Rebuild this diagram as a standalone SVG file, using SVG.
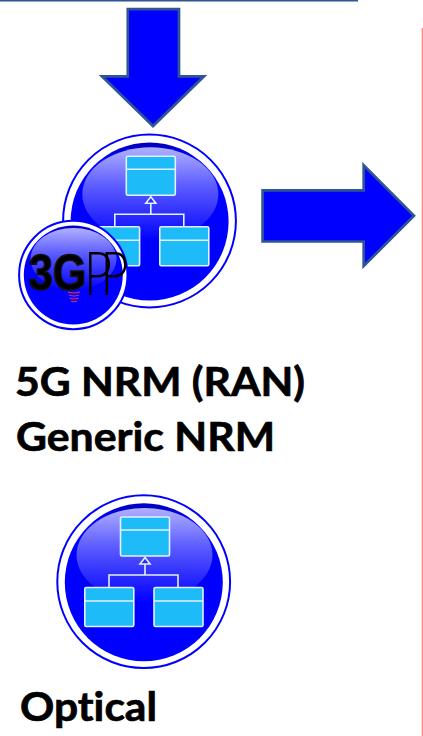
<svg xmlns="http://www.w3.org/2000/svg" width="423" height="736" viewBox="0 0 423 736">
<style>
.arrow{fill:#0000ff;stroke:#2f5597;stroke-width:2.7;stroke-miterlimit:10}
.ring{fill:#fff;stroke:#0000ff;stroke-width:2}
.box{fill:#1dbbf8;stroke:#e2f2ff;stroke-width:1.6}
.wire{fill:none;stroke:#e2f2ff;stroke-width:1.6}
.label{font-family:Lato,"Open Sans",sans-serif;font-weight:700;fill:#000;stroke:#000;stroke-width:.7;font-variant-ligatures:none}
.logo{font-family:"Liberation Sans",Arial,sans-serif;font-weight:700;fill:#000;stroke:#111;stroke-width:1.6}
.thin{font-family:Lato,"Open Sans",sans-serif;font-weight:300;fill:#000}
</style>
<defs>
<linearGradient id="disc" x1="0" y1="0" x2="0" y2="1"><stop offset="0" stop-color="#0000b8"/><stop offset=".1" stop-color="#0000ff"/></linearGradient>
<linearGradient id="gloss" x1="0" y1="0" x2="0" y2="1"><stop offset="0" stop-color="#b0b0ff"/><stop offset=".4" stop-color="#5e5eff"/><stop offset="1" stop-color="#0000ff"/></linearGradient>
<g id="uml">
<circle class="ring" cx="143.7" cy="581.7" r="86.4"/>
<circle cx="143.8" cy="582.3" r="79" fill="url(#disc)"/>
<ellipse cx="144.5" cy="555" rx="68" ry="47" fill="url(#gloss)"/>
<rect class="box" x="120.500" y="517" width="49" height="39" rx="1.500"/>
<path class="wire" d="M120.500 530H169.500M145 564V575M109 587V575H178V587"/>
<rect class="box" x="84.800" y="587.500" width="49" height="39" rx="1.500"/>
<rect class="box" x="154" y="587.500" width="49" height="39" rx="1.500"/>
<path d="M145 557.500L150 564H140Z" fill="#2a2aff" stroke="#e2f2ff" stroke-width="1.600"/>
<path class="wire" d="M84.800 601H133.800M154 601H203"/>
</g>
</defs>
<rect width="423" height="736" fill="#fff"/>
<g id="connectors">
<rect id="top-line" x="0" y="0" width="358" height="1.500" fill="#2f5597"/>
<rect id="side-line" x="421.700" y="28" width="1.300" height="708" fill="#ff8585"/>
<path id="arrow-down" class="arrow" d="M127.800 9.200H179V76.300H204L153 126L102 76.300H127.800Z"/>
<path id="arrow-right" class="arrow" d="M262.600 190.300H363.700V165.300L414 215.700L363.700 266V241.500H262.600Z"/>
</g>
<g id="node-5g-nrm">
<use href="#uml" x="5.800" y="-360.700"/>
</g>
<g id="node-3gpp">
<circle class="ring" cx="73.300" cy="275" r="54.200"/>
<circle cx="73.300" cy="275" r="49.500" fill="url(#disc)"/>
<ellipse cx="73.500" cy="259" rx="43" ry="31" fill="url(#gloss)"/>
<g fill="none" stroke-width="1.100" stroke="#e03060">
<path d="M68 292q6 2 12 0M69 295q5 2 10 0M69.500 298q4.500 2 9 0M71 301q3 1.500 6 0"/>
</g>
<text class="logo" transform="translate(29,290) scale(.86,1)" font-size="50">3G</text>
<text class="thin" transform="translate(84,295) scale(.78,1)" x="0 21" y="0" font-size="62">PP</text>
</g>
<text class="label" x="15" y="396" font-size="41" textLength="290" lengthAdjust="spacingAndGlyphs">5G NRM (RAN)</text>
<text class="label" x="16" y="451" font-size="41" textLength="259" lengthAdjust="spacingAndGlyphs">Generic NRM</text>
<g id="node-optical">
<use href="#uml"/>
</g>
<text class="label" x="20" y="721" font-size="41" textLength="137" lengthAdjust="spacingAndGlyphs">Optical</text>
</svg>
